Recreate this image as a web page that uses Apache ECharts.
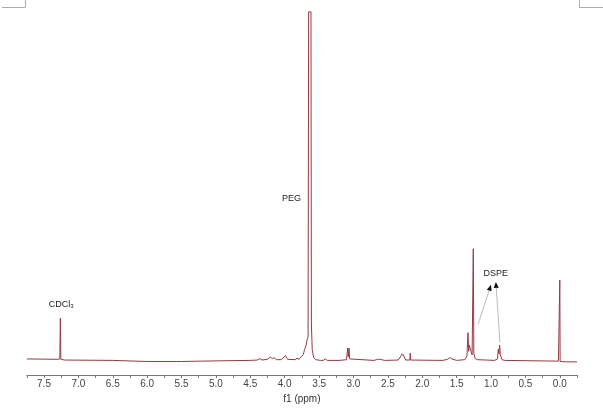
<!DOCTYPE html>
<html><head><meta charset="utf-8">
<script src="https://cdn.jsdelivr.net/npm/echarts@6/dist/echarts.min.js"></script>
<style>html,body{margin:0;padding:0;background:#fff}#c{width:603px;height:413px}</style>
</head><body><div id="c"></div>
<script>
// Spectrum trace: chemical shift (ppm) and relative intensity
const shiftPpm = [
  7.75, 7.30, 7.27, 7.262, 7.255, 7.20, 6.5, 6.0, 5.5, 5.2, 4.9, 4.5,
  4.40, 4.36, 4.33, 4.25, 4.21, 4.18, 4.15, 4.12, 4.05, 3.99, 3.96, 3.85, 3.82, 3.79, 3.76, 3.73, 3.71, 3.69, 3.675, 3.66,
  3.652, 3.618, 3.612, 3.60, 3.58, 3.55, 3.48, 3.46, 3.44, 3.41, 3.38, 3.20,
  3.10, 3.085, 3.075, 3.065, 3.055, 3.04, 2.70, 2.65, 2.63, 2.61, 2.55,
  2.35, 2.31, 2.29, 2.27, 2.24, 2.18, 2.175, 2.17, 1.70, 1.63, 1.60, 1.57, 1.50,
  1.38, 1.35, 1.335, 1.325, 1.315, 1.305, 1.29, 1.275, 1.258, 1.25, 1.23, 1.20,
  0.95, 0.905, 0.895, 0.885, 0.875, 0.865, 0.855, 0.84, 0.80,
  0.02, 0.005, 0.0, -0.005, -0.1, -0.25
];
const intensity = [
  0.4, 0.3, 0.4, 11.6, 0.3, 0.1, 0.0, -0.3, -0.3, -0.2, -0.1, 0.0,
  0.1, 0.5, 0.1, 0.3, 0.9, 0.5, 0.7, 0.2, 0.2, 1.3, 0.3, 0.2, 0.6, 0.3, 1.0, 1.6, 3.0, 4.0, 5.6, 6.5,
  95.5, 95.5, 10, 3, 0.8, 0.2, 0.0, 0.5, 0.0, 0.4, 0.0, 0.0,
  0.2, 3.4, 1.0, 3.4, 0.4, 0.1, 0.0, 0.3, 0.8, 0.3, 0.0,
  0.1, 1.2, 1.8, 1.2, 0.1, 0.1, 2.0, 0.1, 0.0, 0.3, 0.8, 0.4, 0.0,
  0.2, 1.2, 7.6, 2.5, 4.2, 3.5, 3.0, 1.5, 30.6, 2.0, 0.5, 0.2,
  0.0, 0.4, 3.0, 1.8, 4.2, 1.5, 2.0, 0.2, 0.0,
  -0.2, -0.2, 22, -0.3, -0.4, -0.4
];
// Axis range and tick labels
const axisMin = -0.25, axisMax = 7.75, tickStep = 0.25;
const tickLabels = ['0.0','0.5','1.0','1.5','2.0','2.5','3.0','3.5','4.0','4.5','5.0','5.5','6.0','6.5','7.0','7.5'];
// Annotations (text, anchor ppm, anchor intensity)
const annTexts = ['CDCl3', 'PEG', 'DSPE'];
const annPpm = [7.25, 3.90, 0.93];
const annInt = [15.4, 44.3, 23.8];
// Arrows: tail [ppm, intensity] -> head [ppm, intensity]
const arrowTail = [[1.19, 9.8], [0.87, 5.0]];
const arrowHead = [[1.00, 20.7], [0.93, 21.5]];

const data = shiftPpm.map((p, i) => [p, intensity[i]]);
const chart = echarts.init(document.getElementById('c'));
const FONT = 'Liberation Sans, Arial, sans-serif';
chart.setOption({
  animation: false,
  backgroundColor: '#fff',
  grid: { left: 26.8, right: 26, top: 10, bottom: 38 },
  xAxis: {
    type: 'value', inverse: true, min: axisMin, max: axisMax, interval: tickStep,
    splitLine: { show: false },
    axisLine: { show: true, onZero: false, lineStyle: { color: '#777', width: 1 } },
    axisTick: { show: true, length: 3, lineStyle: { color: '#777' } },
    axisLabel: {
      margin: 4, color: '#444', fontSize: 10, fontFamily: FONT, showMinLabel: true, showMaxLabel: true,
      formatter: v => { const s = (Math.round(v * 10) / 10).toFixed(1); return (Math.abs(v * 2 - Math.round(v * 2)) < 1e-6 && tickLabels.includes(s)) ? s : ''; }
    },
    name: 'f1 (ppm)', nameLocation: 'middle', nameGap: 13,
    nameTextStyle: { color: '#333', fontSize: 10, fontFamily: FONT }
  },
  yAxis: { type: 'value', min: -4, max: 96, show: false, splitLine: { show: false } },
  series: [{
    type: 'line', data: data, showSymbol: false, symbol: 'none', sampling: null,
    lineStyle: { color: '#943A42', width: 1 }, silent: true
  }]
});

function px(p) { return chart.convertToPixel({ xAxisIndex: 0, yAxisIndex: 0 }, p); }
const g = [];
// crop marks
const cm = { stroke: '#aaa', lineWidth: 1 };
g.push({ type: 'line', shape: { x1: 2, y1: 7.5, x2: 25, y2: 7.5 }, style: cm, silent: true });
g.push({ type: 'line', shape: { x1: 25.5, y1: 0, x2: 25.5, y2: 7.5 }, style: cm, silent: true });
g.push({ type: 'line', shape: { x1: 579.5, y1: 0, x2: 579.5, y2: 7.5 }, style: cm, silent: true });
g.push({ type: 'line', shape: { x1: 579.5, y1: 7.5, x2: 603, y2: 7.5 }, style: cm, silent: true });
// labels
annTexts.forEach((t, i) => {
  const p = px([annPpm[i], annInt[i]]);
  const rich = t === 'CDCl3' ? '{a|CDCl}{s|3}' : '{a|' + t + '}';
  g.push({ type: 'text', x: p[0], y: p[1], silent: true,
    style: { text: rich, align: 'center', verticalAlign: 'middle',
      rich: { a: { fontSize: 9, fontFamily: FONT, fill: '#222' }, s: { fontSize: 6, fontFamily: FONT, fill: '#222', padding: [5, 0, 0, 0] } } } });
});
// arrows
arrowTail.forEach((t, i) => {
  const a = px(t), b = px(arrowHead[i]);
  const dx = b[0] - a[0], dy = b[1] - a[1], L = Math.hypot(dx, dy);
  const ux = dx / L, uy = dy / L, hl = 6, hw = 2.5;
  const bx = b[0] - ux * hl, by = b[1] - uy * hl;
  g.push({ type: 'line', shape: { x1: a[0], y1: a[1], x2: bx, y2: by }, style: { stroke: '#aaa', lineWidth: 0.8 }, silent: true });
  g.push({ type: 'polygon', shape: { points: [[b[0], b[1]], [bx - uy * hw, by + ux * hw], [bx + uy * hw, by - ux * hw]] }, style: { fill: '#111' }, silent: true });
});
chart.setOption({ graphic: g });
</script></body></html>
